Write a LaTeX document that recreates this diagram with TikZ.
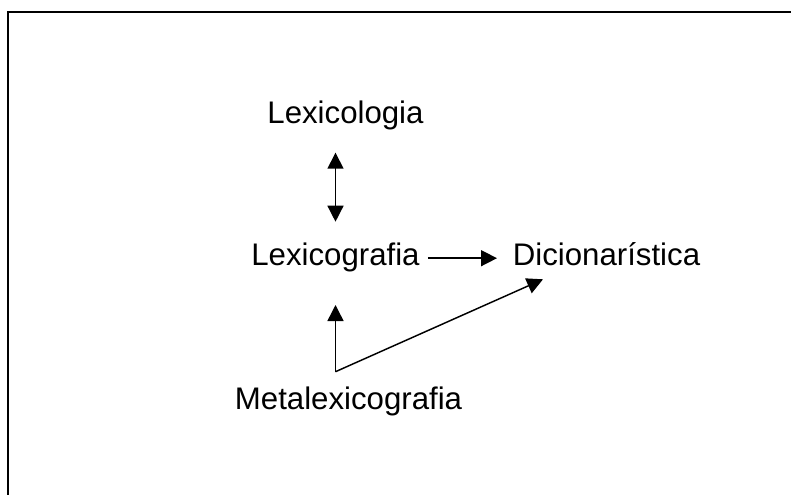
\documentclass[tikz,border=0pt]{standalone}
\usepackage{fontspec}
\setmainfont{Liberation Sans}
\usetikzlibrary{arrows.meta,calc}
\begin{document}
\begin{tikzpicture}[
  x=0.75pt, y=-0.75pt,
  lnode/.style={inner sep=0pt, anchor=base, font=\fontsize{23.4}{28}\selectfont},
  arw/.style={-{Triangle[length=12pt,width=12pt]}, line width=1.1pt},
  dblarw/.style={{Triangle[length=12pt,width=12pt]}-{Triangle[length=12pt,width=12pt]}, line width=1.1pt},
  frameline/.style={line width=1.5pt}
  ]
\useasboundingbox (0,0) rectangle (791,495);

% frame
\draw [frameline] (8.3,495) -- (8.3,12.3) -- (791,12.3);

% terms
\node [lnode] (lexicologia) at (345.5,123.3) {Lexicologia};
\node [lnode] (lexicografia) at (335.5,265.7) {Lexicografia};
\node [lnode] (dicionaristica) at (606.5,265.7) {Dicionarística};
\node [lnode] (metalexicografia) at (348.5,409.3) {Metalexicografia};

\coordinate (knee) at ($(lexicografia.base |- metalexicografia.base)+(0,-37.6)$);

% connections
\draw [dblarw] ($(lexicografia.base |- lexicologia.base)+(0,29.4)$) -- ($(lexicografia.base)+(0,-44)$);
\draw [arw] ($(lexicografia.base east)+(8,-7.5)$) -- ($(dicionaristica.base west)+(-15.6,-7.5)$);
\draw [arw] (knee) -- ($(lexicografia.base)+(0,39.3)$);
\draw [arw] (knee) -- ($(dicionaristica.base west)+(30.4,13.6)$);

\end{tikzpicture}
\end{document}
